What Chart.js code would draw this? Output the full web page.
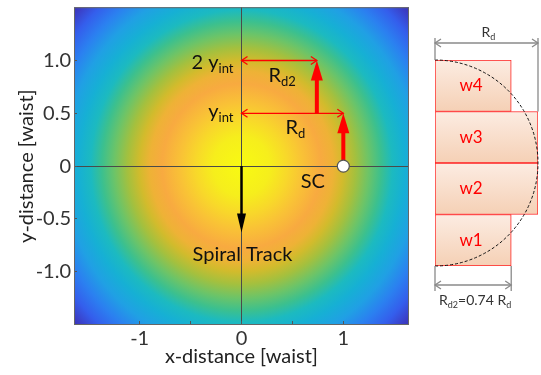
<!DOCTYPE html>
<html>
<head>
<meta charset="utf-8">
<script src="https://cdn.jsdelivr.net/npm/chart.js@4.4.1/dist/chart.umd.min.js"></script>
<style>
    body { margin: 0; background: #fff; width: 541px; height: 375px; position: relative; overflow: hidden; }
    #beam  { position: absolute; left: 0; top: 0; }
    #rings { position: absolute; left: 420px; top: 0; }
</style>
</head>
<body>
<canvas id="beam" width="420" height="375"></canvas>
<canvas id="rings" width="121" height="375"></canvas>
<script>
//  axis ranges (waist units)
const xRange = [-1.645, 1.645];
const yRange = [-1.505, 1.505];
const tickStep = 0.5;
const tickLimit = 1.0;      //  no ticks drawn beyond +-1

//  radial colour profile of the beam (radius in waist)
const profileRadius = [0, 0.28, 0.45, 0.6, 0.78, 0.9, 1.0, 1.12, 1.25, 1.37, 1.48, 1.6, 1.75, 1.9, 2.05, 2.18, 2.3];
const profileColour = ['#f8fa12', '#f6ee1c', '#f8d82a', '#f9c236', '#f8aa40', '#eeb236', '#d2bb2c', '#a4c03e',
                       '#6cc468', '#3cc08e', '#1cbac0', '#16b0d4', '#20a0e4', '#2b80f0', '#345eec', '#3b3cc4', '#3a2aa0'];

//  markers on the beam
const scPoint      = [{x: 1.0, y: 0}];
const yIntLevels   = [0.5, 1.0];            //  y_int, 2 y_int
const yIntPrefix   = ['', '2 '];
const rdLengths    = [1.0, 0.74];           //  R_d, R_d2
const rdSubs       = ['d', 'd2'];
const spiralEnd    = -0.63;

//  right sketch: windows in units of R_d
const windowNames  = ['w4', 'w3', 'w2', 'w1'];
const windowWidths = [0.74, 1.0, 1.0, 0.74];
const rd2Ratio     = 0.74;

Chart.defaults.font.family = 'Lato';
Chart.defaults.color = '#333';

//  text with subscripts: parts = [[text, isSub], ...]
function drawParts(ctx, parts, x, y, align, size, subSize){
    let w = 0;
    parts.forEach(p => {
        ctx.font = (p[1] ? subSize : size) + 'px Lato';
        w += ctx.measureText(p[0]).width;
    });
    let cx = align === 'right' ? x - w : (align === 'center' ? x - w / 2 : x);
    ctx.textAlign = 'left';
    ctx.textBaseline = 'alphabetic';
    parts.forEach(p => {
        ctx.font = (p[1] ? subSize : size) + 'px Lato';
        ctx.fillText(p[0], cx, p[1] ? y + size * 0.2 : y);
        cx += ctx.measureText(p[0]).width;
    });
}

function chevron(ctx, tx, ty, dx, dy, len, half){
    const n = Math.hypot(dx, dy), ux = dx / n, uy = dy / n;
    ctx.beginPath();
    ctx.moveTo(tx - ux * len - uy * half, ty - uy * len + ux * half);
    ctx.lineTo(tx, ty);
    ctx.lineTo(tx - ux * len + uy * half, ty - uy * len - ux * half);
    ctx.stroke();
}

function solidArrow(ctx, x1, y1, x2, y2, colour, width, headLen, headHalf){
    const n = Math.hypot(x2 - x1, y2 - y1), ux = (x2 - x1) / n, uy = (y2 - y1) / n;
    ctx.strokeStyle = colour;
    ctx.fillStyle = colour;
    ctx.lineWidth = width;
    ctx.lineCap = 'butt';
    ctx.beginPath();
    ctx.moveTo(x1, y1);
    ctx.lineTo(x2 - ux * (headLen - 1), y2 - uy * (headLen - 1));
    ctx.stroke();
    ctx.beginPath();
    ctx.moveTo(x2, y2);
    ctx.lineTo(x2 - ux * headLen - uy * headHalf, y2 - uy * headLen + ux * headHalf);
    ctx.lineTo(x2 - ux * headLen + uy * headHalf, y2 - uy * headLen - ux * headHalf);
    ctx.closePath();
    ctx.fill();
}

//  heat map background + box
const beamBackground = {
    id: 'beamBackground',
    beforeDraw(chart){
        const {ctx, chartArea: a, scales: {x, y}} = chart;
        const cx = x.getPixelForValue(0), cy = y.getPixelForValue(0);
        const kx = x.getPixelForValue(1) - cx, ky = cy - y.getPixelForValue(1);
        const rMax = profileRadius[profileRadius.length - 1];
        ctx.save();
        ctx.beginPath();
        ctx.rect(a.left, a.top, a.width, a.height);
        ctx.clip();
        ctx.translate(cx, cy);
        ctx.scale(1, ky / kx);
        const g = ctx.createRadialGradient(0, 0, 0, 0, 0, rMax * kx);
        profileRadius.forEach((r, i) => g.addColorStop(r / rMax, profileColour[i]));
        ctx.fillStyle = g;
        ctx.fillRect(-4 * kx, -4 * kx, 8 * kx, 8 * kx);
        ctx.restore();
    },
    beforeDatasetsDraw(chart){
        const {ctx, chartArea: a, scales: {x, y}} = chart;
        ctx.save();
        ctx.strokeStyle = '#666';
        ctx.lineWidth = 1;
        ctx.strokeRect(a.left + 0.5, a.top + 0.5, a.width - 1, a.height - 1);

        const x0 = x.getPixelForValue(0), y0 = y.getPixelForValue(0);

        //  thin red double arrows
        ctx.strokeStyle = '#ff0000';
        ctx.lineWidth = 1.3;
        yIntLevels.forEach((lv, i) => {
            const py = y.getPixelForValue(lv), px = x.getPixelForValue(rdLengths[i]);
            ctx.beginPath();
            ctx.moveTo(x0, py);
            ctx.lineTo(px, py);
            ctx.stroke();
            chevron(ctx, x0, py, -1, 0, 6, 4);
            chevron(ctx, px, py, 1, 0, 6, 4);
        });

        //  thick red arrows
        const scX = x.getPixelForValue(scPoint[0].x);
        solidArrow(ctx, scX, y0, scX, y.getPixelForValue(yIntLevels[0]), '#ff0000', 4, 20, 6);
        const r2X = x.getPixelForValue(rdLengths[1]);
        solidArrow(ctx, r2X, y.getPixelForValue(yIntLevels[0]), r2X, y.getPixelForValue(yIntLevels[1]), '#ff0000', 4, 20, 6);

        //  spiral track arrow
        solidArrow(ctx, x0, y0, x0, y.getPixelForValue(spiralEnd), '#000', 2.5, 19, 4.5);
        ctx.restore();
    },
    afterDatasetsDraw(chart){
        const {ctx, scales: {x, y}} = chart;
        const x0 = x.getPixelForValue(0);
        ctx.save();
        ctx.fillStyle = '#111';
        yIntLevels.forEach((lv, i) => {
            const py = y.getPixelForValue(lv);
            drawParts(ctx, [[yIntPrefix[i] + 'y', false], ['int', true]], x0 - 8, py + (i ? 8 : 5), 'right', 20, 13);
            const mid = x.getPixelForValue(rdLengths[i] / 2);
            drawParts(ctx, [['R', false], [rdSubs[i], true]], mid + 3, py + 21, 'center', 20, 13);
        });
        ctx.font = '20px Lato';
        ctx.textAlign = 'center';
        ctx.textBaseline = 'alphabetic';
        ctx.fillText('SC', x.getPixelForValue(0.70), y.getPixelForValue(0) + 22);
        ctx.fillText('Spiral Track', x0 + 1, y.getPixelForValue(spiralEnd) + 28);
        ctx.restore();
    }
};

const zeroGrid = c => (c.tick && Math.abs(c.tick.value) < 1e-9) ? '#4a4a4a' : 'rgba(0,0,0,0)';

new Chart(document.getElementById('beam'), {
    type: 'scatter',
    data: {
        datasets: [{
            data: scPoint,
            pointRadius: 6,
            pointBackgroundColor: '#fff',
            pointBorderColor: '#555',
            pointBorderWidth: 1.2
        }]
    },
    options: {
        responsive: false,
        animation: false,
        layout: { padding: { top: 3, right: 11, left: 0, bottom: 0 } },
        scales: {
            x: {
                min: xRange[0], max: xRange[1],
                afterFit: s => { s.height = 50; s.paddingLeft = 0; s.paddingRight = 0; },
                border: { display: false },
                grid: { color: zeroGrid, tickColor: '#555', tickLength: -4, lineWidth: 1 },
                ticks: {
                    stepSize: tickStep,
                    includeBounds: false,
                    autoSkip: false,
                    maxRotation: 0,
                    padding: 6,
                    font: { size: 20 },
                    callback: v => Math.abs(v) > tickLimit + 1e-9 ? null
                                 : (Math.abs(v) < 1e-9 ? '0' : (Number.isInteger(v) ? String(v) : ''))
                },
                title: { display: true, text: 'x-distance [waist]', color: '#222', font: { size: 20 }, padding: { top: 0, bottom: 6 } }
            },
            y: {
                min: yRange[0], max: yRange[1],
                afterFit: s => { s.width = 74; s.paddingTop = 0; s.paddingBottom = 0; },
                border: { display: false },
                grid: { color: zeroGrid, tickColor: '#555', tickLength: -3, lineWidth: 1 },
                ticks: {
                    stepSize: tickStep,
                    includeBounds: false,
                    autoSkip: false,
                    padding: 6,
                    font: { size: 20 },
                    callback: v => Math.abs(v) > tickLimit + 1e-9 ? null
                                 : (Math.abs(v) < 1e-9 ? '0' : v.toFixed(1))
                },
                title: { display: true, text: 'y-distance [waist]', color: '#222', font: { size: 20 }, padding: { top: 15, bottom: 0 } }
            }
        },
        plugins: { legend: { display: false }, tooltip: { enabled: false } }
    },
    plugins: [beamBackground]
});

//  right sketch
const windowSketch = {
    id: 'windowSketch',
    afterDatasetsDraw(chart){
        const {ctx, chartArea: a, scales: {x, y}} = chart;
        const bars = chart.getDatasetMeta(0).data;
        const x0 = x.getPixelForValue(0), x1 = x.getPixelForValue(1), x2 = x.getPixelForValue(rd2Ratio);
        ctx.save();

        //  window names
        ctx.fillStyle = '#ff0000';
        ctx.font = '17px Lato';
        ctx.textAlign = 'center';
        ctx.textBaseline = 'middle';
        const labelX = x.getPixelForValue(Math.min(...windowWidths) / 2);
        windowNames.forEach((n, i) => ctx.fillText(n, labelX - 2, bars[i].y));

        //  dashed half circle of radius R_d
        const yc = (a.top + a.bottom) / 2;
        ctx.strokeStyle = '#111';
        ctx.lineWidth = 1;
        ctx.setLineDash([3, 2]);
        ctx.beginPath();
        ctx.ellipse(x0, yc, x1 - x0, (a.bottom - a.top) / 2, 0, -Math.PI / 2, Math.PI / 2);
        ctx.stroke();
        ctx.setLineDash([]);

        //  dimension lines
        ctx.strokeStyle = '#8a8a8a';
        ctx.lineWidth = 1.3;
        const topY = a.top - 17, botY = a.bottom + 19;
        const w3Top = bars[1].y - bars[1].height / 2;
        ctx.beginPath();
        ctx.moveTo(x0, topY - 5); ctx.lineTo(x0, a.top);
        ctx.moveTo(x1, topY - 5); ctx.lineTo(x1, w3Top);
        ctx.moveTo(x0, topY); ctx.lineTo(x1, topY);
        ctx.moveTo(x0, a.bottom); ctx.lineTo(x0, botY + 6);
        ctx.moveTo(x2, a.bottom); ctx.lineTo(x2, botY + 6);
        ctx.moveTo(x0, botY); ctx.lineTo(x2, botY);
        ctx.stroke();
        chevron(ctx, x0, topY, -1, 0, 6, 4);
        chevron(ctx, x1, topY, 1, 0, 6, 4);
        chevron(ctx, x0, botY, -1, 0, 6, 4);
        chevron(ctx, x2, botY, 1, 0, 6, 4);

        ctx.fillStyle = '#333';
        drawParts(ctx, [['R', false], ['d', true]], (x0 + x1) / 2 + 2, topY - 6, 'center', 14, 9);
        drawParts(ctx, [['R', false], ['d2', true], ['=' + rd2Ratio + ' R', false], ['d', true]],
                  (x0 + x2) / 2 + 2, botY + 20, 'center', 14, 9);
        ctx.restore();
    }
};

new Chart(document.getElementById('rings'), {
    type: 'bar',
    data: {
        labels: windowNames,
        datasets: [{
            data: windowWidths,
            backgroundColor: c => {
                const a = c.chart.chartArea;
                if (!a) return '#f7ddcc';
                const band = (a.bottom - a.top) / windowNames.length;
                const top = a.top + band * c.dataIndex;
                const g = c.chart.ctx.createLinearGradient(0, top, 0, top + band);
                g.addColorStop(0, '#fcece2');
                g.addColorStop(1, '#f5d0b5');
                return g;
            },
            borderColor: '#ff2020',
            borderWidth: 1,
            borderSkipped: false,
            barPercentage: 1,
            categoryPercentage: 1
        }]
    },
    options: {
        indexAxis: 'y',
        responsive: false,
        animation: false,
        layout: { padding: { left: 15, right: 3, top: 60, bottom: 109 } },
        scales: {
            x: { display: false, min: 0, max: 1 },
            y: { display: false }
        },
        plugins: { legend: { display: false }, tooltip: { enabled: false } }
    },
    plugins: [windowSketch]
});
</script>
</body>
</html>
